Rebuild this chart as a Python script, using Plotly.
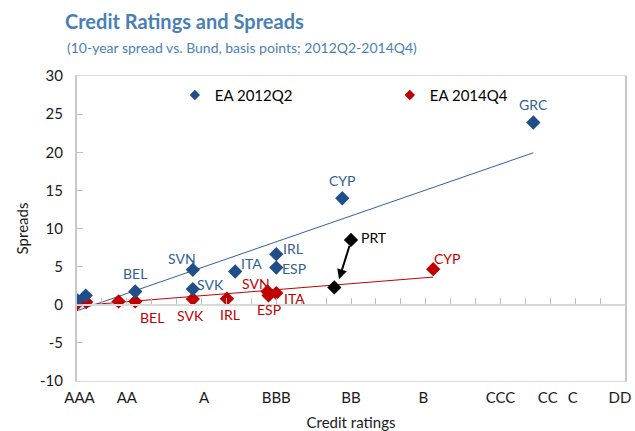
import plotly.graph_objects as go

# ---- data ----
rating_labels = ["AAA", "AA", "A", "BBB", "BB", "B", "CCC", "CC", "C", "DD"]
rating_pos = [0.1, 2.0, 5.1, 8.0, 11.0, 13.9, 17.0, 18.9, 19.9, 21.8]
y_ticks = [-10, -5, 0, 5, 10, 15, 20, 25, 30]

ea12_names = ["", "", "BEL", "SVN", "SVK", "ITA", "IRL", "ESP", "CYP", "GRC"]
ea12_x = [0.0, 0.35, 2.34, 4.65, 4.65, 6.35, 8.0, 8.0, 10.65, 18.32]
ea12_y = [0.6, 1.2, 1.74, 4.58, 2.05, 4.36, 6.63, 4.88, 13.97, 23.9]

ea14_names = ["", "", "", "BEL", "SVK", "IRL", "SVN", "ESP", "ITA", "CYP"]
ea14_x = [0.0, 0.37, 1.67, 2.34, 4.65, 6.02, 7.65, 7.69, 8.0, 14.3]
ea14_y = [0.13, 0.35, 0.44, 0.44, 0.75, 0.79, 1.74, 1.22, 1.53, 4.67]

prt_name = "PRT"
prt_x = [11.0, 10.33]   # 2012Q2, 2014Q4
prt_y = [8.5, 2.27]

trend12_x = [0.0, 18.32]
trend12_y = [-0.79, 19.93]
trend14_x = [0.0, 14.3]
trend14_y = [-0.13, 3.63]

# ---- styles ----
BLUE = "#1f4e8a"
BLUE_TXT = "#2f5f96"
RED = "#c00000"
TITLE_C = "#4a7fb5"
FONT = "Lato, 'Open Sans', sans-serif"

W, H = 635, 431
ML, MR, MT, MB = 77, 10, 76, 50
PLOT_W = W - ML - MR
PLOT_H = H - MT - MB

off12 = {"BEL": (0, 18), "SVN": (-11, 11), "SVK": (18, 5), "ITA": (16, 8),
         "IRL": (17, 6), "ESP": (18, -1), "CYP": (0, 18), "GRC": (0, 18)}
off14 = {"BEL": (17, -16), "SVK": (-2, -16), "IRL": (3, -16), "SVN": (-12, 8),
         "ESP": (0, -14), "ITA": (18, -5), "CYP": (14, 11)}

fig = go.Figure()

fig.add_trace(go.Scatter(x=trend12_x, y=trend12_y, mode="lines",
                         line=dict(color="#2e62a0", width=1), showlegend=False, hoverinfo="skip"))
fig.add_trace(go.Scatter(x=trend14_x, y=trend14_y, mode="lines",
                         line=dict(color=RED, width=1), showlegend=False, hoverinfo="skip"))

fig.add_trace(go.Scatter(x=ea14_x, y=ea14_y, mode="markers", name="EA 2014Q4",
                         marker=dict(symbol="diamond", size=11, color=RED), showlegend=False))
fig.add_trace(go.Scatter(x=ea12_x, y=ea12_y, mode="markers", name="EA 2012Q2",
                         marker=dict(symbol="diamond", size=11, color=BLUE), showlegend=False))
fig.add_trace(go.Scatter(x=prt_x, y=prt_y, mode="markers", name=prt_name,
                         marker=dict(symbol="diamond", size=11, color="black"), showlegend=False))

# legend entries
fig.add_trace(go.Scatter(x=[None], y=[None], mode="markers", name="EA 2012Q2",
                         marker=dict(symbol="diamond", size=8, color=BLUE)))
fig.add_trace(go.Scatter(x=[None], y=[None], mode="markers", name="EA 2014Q4",
                         marker=dict(symbol="diamond", size=8, color=RED)))

annotations = []
for n, x, y in zip(ea12_names, ea12_x, ea12_y):
    if n:
        dx, dy = off12[n]
        annotations.append(dict(x=x, y=y, xref="x", yref="y", text=n, showarrow=False,
                                xshift=dx, yshift=dy, font=dict(color=BLUE_TXT, size=14, family=FONT)))
for n, x, y in zip(ea14_names, ea14_x, ea14_y):
    if n:
        dx, dy = off14[n]
        annotations.append(dict(x=x, y=y, xref="x", yref="y", text=n, showarrow=False,
                                xshift=dx, yshift=dy, font=dict(color=RED, size=14, family=FONT)))
annotations.append(dict(x=prt_x[0], y=prt_y[0], xref="x", yref="y", text=prt_name, showarrow=False,
                        xshift=23, yshift=2, font=dict(color="black", size=14, family=FONT)))
# arrow PRT 2012Q2 -> 2014Q4
annotations.append(dict(x=10.52, y=3.35, ax=10.96, ay=7.94, xref="x", yref="y", axref="x", ayref="y",
                        text="", showarrow=True, arrowhead=2, arrowsize=1, arrowwidth=2, arrowcolor="black"))
# subtitle (pixel 65,47 of the page)
annotations.append(dict(x=(65 - ML) / PLOT_W, y=(H - MB - 47) / PLOT_H,
                        xref="paper", yref="paper", showarrow=False,
                        xanchor="left", yanchor="middle",
                        text="(10-year spread vs. Bund, basis points; 2012Q2-2014Q4)",
                        font=dict(color=TITLE_C, size=14, family=FONT)))

fig.update_layout(
    width=W, height=H,
    margin=dict(l=ML, r=MR, t=MT, b=MB, autoexpand=False),
    paper_bgcolor="white", plot_bgcolor="white",
    font=dict(family=FONT, size=15, color="#1a1a1a"),
    title=dict(text="<b>Credit Ratings and Spreads</b>", x=65 / W, xanchor="left",
               xref="container", y=1 - 22 / H, yref="container", yanchor="middle",
               font=dict(color=TITLE_C, size=20, family=FONT)),
    showlegend=True,
    legend=dict(orientation="h", x=0.1785, y=0.937, xanchor="left", yanchor="middle",
                entrywidth=170, entrywidthmode="pixels", itemwidth=30,
                font=dict(size=15, color="black", family=FONT), bgcolor="rgba(0,0,0,0)"),
    xaxis=dict(range=[0, 22], tickmode="array", tickvals=rating_pos, ticktext=rating_labels,
               ticks="", showgrid=False, zeroline=False, showline=True, linecolor="#d9d9d9",
               linewidth=1, mirror=True, tickfont=dict(size=15, color="#1a1a1a"),
               automargin=False, ticklabelstandoff=3,
               title=dict(text="Credit ratings", font=dict(size=15), standoff=13)),
    xaxis2=dict(range=[0, 22], overlaying="x", anchor="free", position=0.25, side="bottom",
                tickmode="linear", tick0=0, dtick=1, ticks="inside", ticklen=6, tickcolor="#bfbfbf",
                showticklabels=False, showgrid=False, zeroline=False, showline=True,
                linecolor="#d9d9d9", linewidth=2, automargin=False),
    yaxis=dict(range=[-10, 30], tickmode="array", tickvals=y_ticks,
               ticktext=[str(v) for v in y_ticks], ticks="inside", ticklen=6,
               tickcolor="#bfbfbf", showgrid=False, zeroline=False, showline=True,
               linecolor="#c8c8c8", linewidth=2, mirror=True, ticklabelstandoff=9,
               tickfont=dict(size=15, color="#1a1a1a"), automargin=False,
               title=dict(text="Spreads", font=dict(size=15), standoff=8)),
    annotations=annotations,
)
# dummy trace to activate xaxis2
fig.add_trace(go.Scatter(x=[None], y=[None], xaxis="x2", showlegend=False))

fig.write_html("out.html", config={"displayModeBar": False},
               post_script="document.body.style.margin='0';document.body.style.overflow='hidden';")
